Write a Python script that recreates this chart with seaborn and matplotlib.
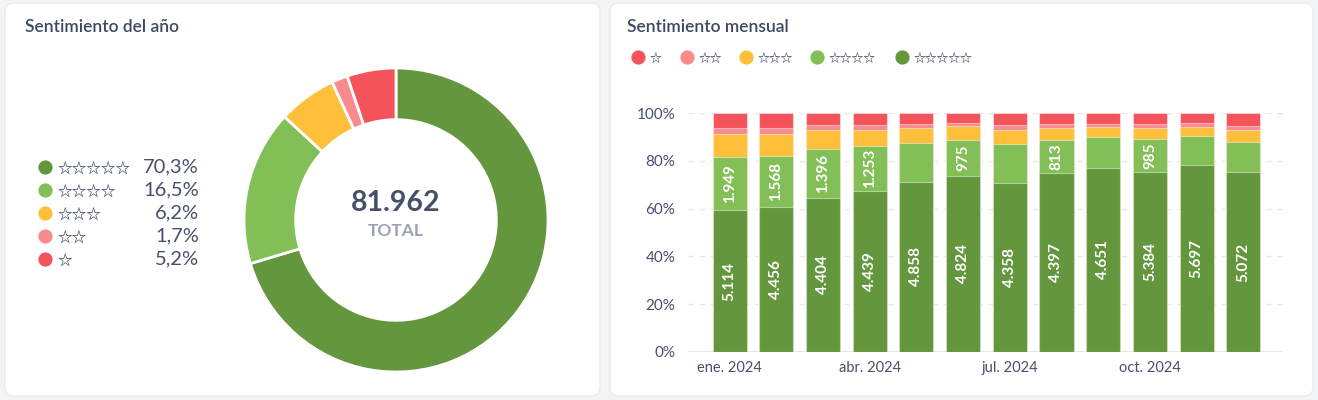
import matplotlib
matplotlib.use("Agg")
import matplotlib.pyplot as plt
from matplotlib.patches import FancyBboxPatch
import numpy as np
import pandas as pd
import seaborn as sns

sns.set_theme(style="white")
plt.rcParams['font.family'] = ['Lato', 'DejaVu Sans']

# --- data: sentimiento del año (donut) ---
year_labels = ["☆☆☆☆☆", "☆☆☆☆", "☆☆☆", "☆☆", "☆"]
year_pct = [70.3, 16.5, 6.2, 1.7, 5.2]
year_total = 81962

# --- data: sentimiento mensual (reviews per month) ---
months = ["ene. 2024", "feb. 2024", "mar. 2024", "abr. 2024", "may. 2024", "jun. 2024",
          "jul. 2024", "ago. 2024", "sept. 2024", "oct. 2024", "nov. 2024", "dic. 2024"]
five_star = [5114, 4456, 4404, 4439, 4858, 4824, 4358, 4397, 4651, 5384, 5697, 5072]
four_star = [1949, 1568, 1396, 1253, 1117, 975, 996, 813, 765, 985, 889, 862]
three_star = [819, 667, 539, 443, 429, 373, 369, 305, 253, 321, 291, 323]
two_star = [216, 183, 136, 139, 102, 92, 123, 88, 84, 121, 109, 108]
one_star = [535, 454, 334, 324, 307, 268, 301, 264, 271, 321, 299, 370]
show_four_label = [True, True, True, True, False, True, False, True, False, True, False, False]
xtick_months = ["ene. 2024", "abr. 2024", "jul. 2024", "oct. 2024"]

star_colors = ["#64963e", "#83bf57", "#fec03a", "#f98b8e", "#f5535b"]  # 5 -> 1 stars
text_dark = "#46506a"
star_col = "#3f4a66"
star_font = ["Noto Sans CJK JP", "DejaVu Sans"]

W, H = 1318, 400
fig = plt.figure(figsize=(W / 100, H / 100), dpi=100)
fig.patch.set_facecolor("#f3f4f6")

# background / overlay axes in pixel units
bg = fig.add_axes([0, 0, 1, 1], zorder=-1)
bg.set_xlim(0, W)
bg.set_ylim(H, 0)
bg.axis("off")
for x0, x1 in [(5, 600), (610, 1313)]:
    bg.add_patch(FancyBboxPatch((x0, 3), x1 - x0, 393,
                                boxstyle="round,pad=0,rounding_size=9",
                                facecolor="white", edgecolor="#e7e9ed", lw=0.8))

bg.text(25, 27, "Sentimiento del año", fontsize=12.5, color="#3e4960",
        fontweight="semibold", va="center", ha="left")
bg.text(627, 27, "Sentimiento mensual", fontsize=12.5, color="#3e4960",
        fontweight="semibold", va="center", ha="left")

# left legend
for i, (lab, pct) in enumerate(zip(year_labels, year_pct)):
    y = 167 + i * 23
    bg.scatter([45], [y], s=105, color=star_colors[i], linewidths=0)
    bg.text(57, y + 1, lab, fontsize=10.5, color=star_col, va="center", ha="left",
            family=star_font, fontweight="bold")
    bg.text(199, y, f"{pct:.1f}%".replace(".", ","), fontsize=14.5, color=text_dark,
            va="center", ha="right")

# top legend (1 -> 5 stars)
leg_x = [638, 687, 746, 817, 902]
for j, x in enumerate(leg_x):
    k = 4 - j
    bg.scatter([x], [57], s=105, color=star_colors[k], linewidths=0)
    bg.text(x + 12, 58, year_labels[k], fontsize=8.5, color=star_col, va="center",
            ha="left", family=star_font, fontweight="bold")

# --- donut ---
cx, cy, r = 396, 220, 152
ax_pie = fig.add_axes([(cx - r) / W, (H - cy - r) / H, 2 * r / W, 2 * r / H])
ax_pie.pie(year_pct, colors=star_colors, startangle=90, counterclock=False,
           wedgeprops=dict(width=0.34, edgecolor="white", linewidth=2))
ax_pie.set_xlim(-1, 1)
ax_pie.set_ylim(-1, 1)
ax_pie.set_facecolor("none")
ax_pie.text(0, 0.11, f"{year_total:,}".replace(",", "."), fontsize=20.5, color=text_dark,
            fontweight="bold", ha="center", va="center")
ax_pie.text(0, -0.075, "TOTAL", fontsize=12.5, color="#9aa2b4", fontweight="bold",
            ha="center", va="center")

# --- stacked bars ---
df = pd.DataFrame({"month": months, "s5": five_star, "s4": four_star, "s3": three_star,
                   "s2": two_star, "s1": one_star})
tot = df[["s5", "s4", "s3", "s2", "s1"]].sum(axis=1)
pct = df[["s5", "s4", "s3", "s2", "s1"]].div(tot, axis=0) * 100
cum = pct.cumsum(axis=1)

x0, x1, ybot, ytop = 688, 1283, 351.7, 113.3
ax = fig.add_axes([x0 / W, (H - ybot) / H, (x1 - x0) / W, (ybot - ytop) / H])
ax.set_facecolor("none")
for col, c in zip(["s1", "s2", "s3", "s4", "s5"], star_colors[::-1]):
    sns.barplot(x=df["month"], y=cum[col], color=c, saturation=1, width=0.73,
                edgecolor=(1, 1, 1, 0.45), linewidth=0.8, ax=ax, zorder=2)

for i in range(len(months)):
    ax.text(i, pct["s5"][i] / 2, f"{five_star[i]:,}".replace(",", "."), rotation=90,
            color="white", fontsize=11, fontweight="bold", ha="center", va="center", zorder=3)
    if show_four_label[i]:
        ax.text(i, pct["s5"][i] + pct["s4"][i] / 2, f"{four_star[i]:,}".replace(",", "."),
                rotation=90, color="white", fontsize=11, fontweight="bold",
                ha="center", va="center", zorder=3)

ax.set_xlim(-0.89, 11.85)
ax.set_ylim(0, 100)
ax.set_yticks([0, 20, 40, 60, 80, 100])
ax.set_yticklabels([f"{v}%" for v in [0, 20, 40, 60, 80, 100]])
ax.set_xticks([months.index(m) for m in xtick_months])
ax.set_xticklabels(xtick_months)
ax.set_xlabel("")
ax.set_ylabel("")
for s in ax.spines.values():
    s.set_visible(False)
ax.yaxis.grid(True, linestyle=(0, (4, 4)), color="#e6e8ec", lw=1)
ax.set_axisbelow(True)
ax.axhline(0, color="#e3e5ea", lw=1.3, zorder=1)
ax.tick_params(axis="y", length=0, pad=9, labelsize=11, labelcolor=text_dark)
ax.tick_params(axis="x", length=0, pad=7, labelsize=10.5, labelcolor=text_dark)

fig.savefig("out.png", dpi=100, facecolor=fig.get_facecolor())
